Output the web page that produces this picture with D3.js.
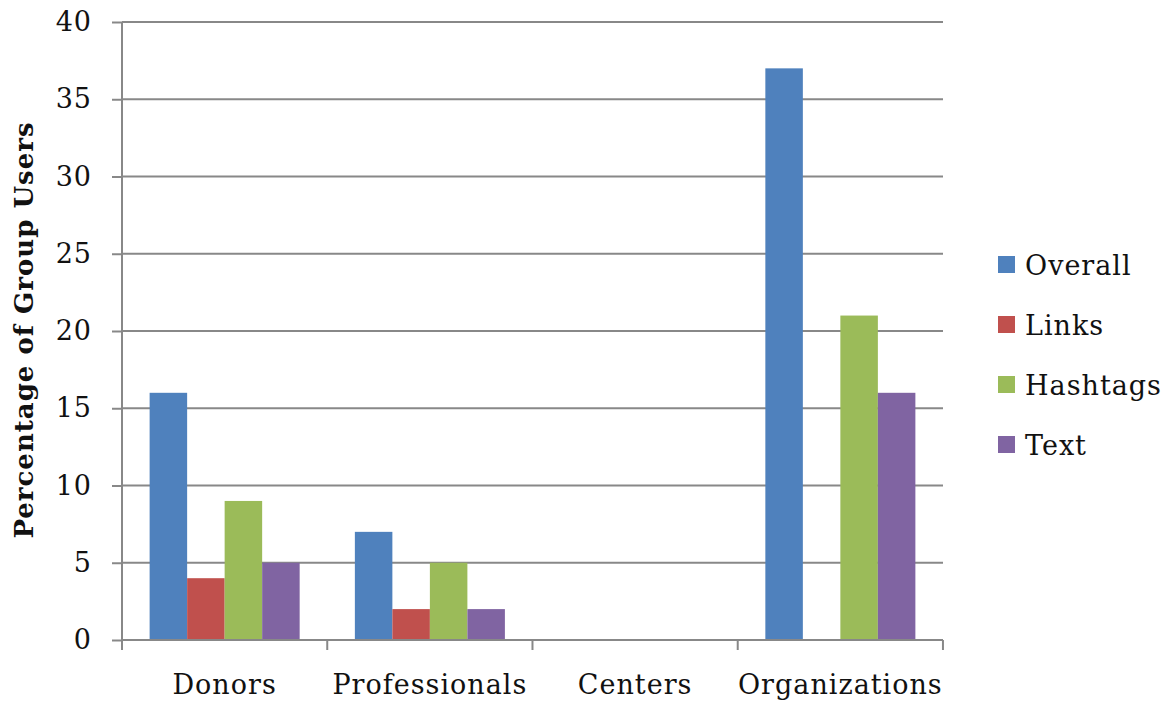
<!DOCTYPE html>
<html><head><meta charset="utf-8">
<script src="https://cdn.jsdelivr.net/npm/d3@7"></script>
<style>body{margin:0;background:#fff}svg{display:block}text{font-family:"DejaVu Serif",serif;fill:#111}</style>
</head><body>
<script>
const categories = ["Donors","Professionals","Centers","Organizations"];
const seriesNames = ["Overall","Links","Hashtags","Text"];
const overall = [16,7,0,37];
const links = [4,2,0,0];
const hashtags = [9,5,0,21];
const textVals = [5,2,0,16];
const yTicks = [0,5,10,15,20,25,30,35,40];
const colors = ["#4F81BD","#C0504D","#9BBB59","#8064A2"];
const seriesValues = [overall,links,hashtags,textVals];

(function(){
const W=1174,H=707;
const svg=d3.select("body").append("svg").attr("width",W).attr("height",H);
const pL=122,pR=943,pT=22,pB=640;
const x0=d3.scaleBand().domain(categories).range([pL,pR]).paddingInner(0.269).paddingOuter(0.1346);
const x1=d3.scaleBand().domain(seriesNames).range([0,x0.bandwidth()]);
const y=d3.scaleLinear().domain([0,40]).range([pB,pT]);

const yAxis=d3.axisLeft(y).tickValues(yTicks).tickSize(10).tickPadding(20);
const gy=svg.append("g").attr("transform",`translate(${pL},0)`).call(yAxis);
gy.select(".domain").remove();
gy.selectAll(".tick line").attr("stroke","#888").attr("stroke-width",2);
gy.selectAll(".tick text").attr("font-size",27).attr("font-family","DejaVu Serif").attr("fill","#111").attr("letter-spacing",1);
svg.append("g").selectAll("line").data(yTicks).join("line")
  .attr("x1",pL).attr("x2",pR).attr("y1",d=>y(d)).attr("y2",d=>y(d))
  .attr("stroke","#888").attr("stroke-width",2);
svg.append("line").attr("x1",pL).attr("x2",pL).attr("y1",pT).attr("y2",pB).attr("stroke","#888").attr("stroke-width",2);

categories.forEach((c,i)=>{
  seriesNames.forEach((s,j)=>{
    const v=seriesValues[j][i];
    if(v>0) svg.append("rect").attr("x",x0(c)+x1(s)).attr("width",x1.bandwidth())
      .attr("y",y(v)).attr("height",y(0)-y(v)).attr("fill",colors[j]);
  });
});

const step=x0.step();
const xt=d3.range(categories.length+1).map(i=>pL+i*step);
svg.append("g").selectAll("line").data(xt).join("line")
  .attr("x1",d=>d).attr("x2",d=>d).attr("y1",pB).attr("y2",pB+10).attr("stroke","#888").attr("stroke-width",2);
svg.append("line").attr("x1",pL).attr("x2",pR).attr("y1",pB).attr("y2",pB).attr("stroke","#888").attr("stroke-width",2);
svg.append("g").selectAll("text").data(categories).join("text")
  .attr("x",d=>x0(d)+x0.bandwidth()/2).attr("y",694).attr("text-anchor","middle")
  .attr("font-size",27).attr("letter-spacing",1).text(d=>d);

svg.append("text").attr("transform","translate(33,330) rotate(-90)").attr("text-anchor","middle")
  .attr("font-size",26).attr("font-weight","bold").attr("letter-spacing",1).text("Percentage of Group Users");

const lg=svg.append("g");
seriesNames.forEach((s,i)=>{
  const cy=265+i*60;
  lg.append("rect").attr("x",998).attr("y",cy-9).attr("width",17).attr("height",17).attr("fill",colors[i]);
  lg.append("text").attr("x",1025).attr("y",cy+10).attr("font-size",27).attr("letter-spacing",1).text(s);
});
})();
</script>
</body></html>
